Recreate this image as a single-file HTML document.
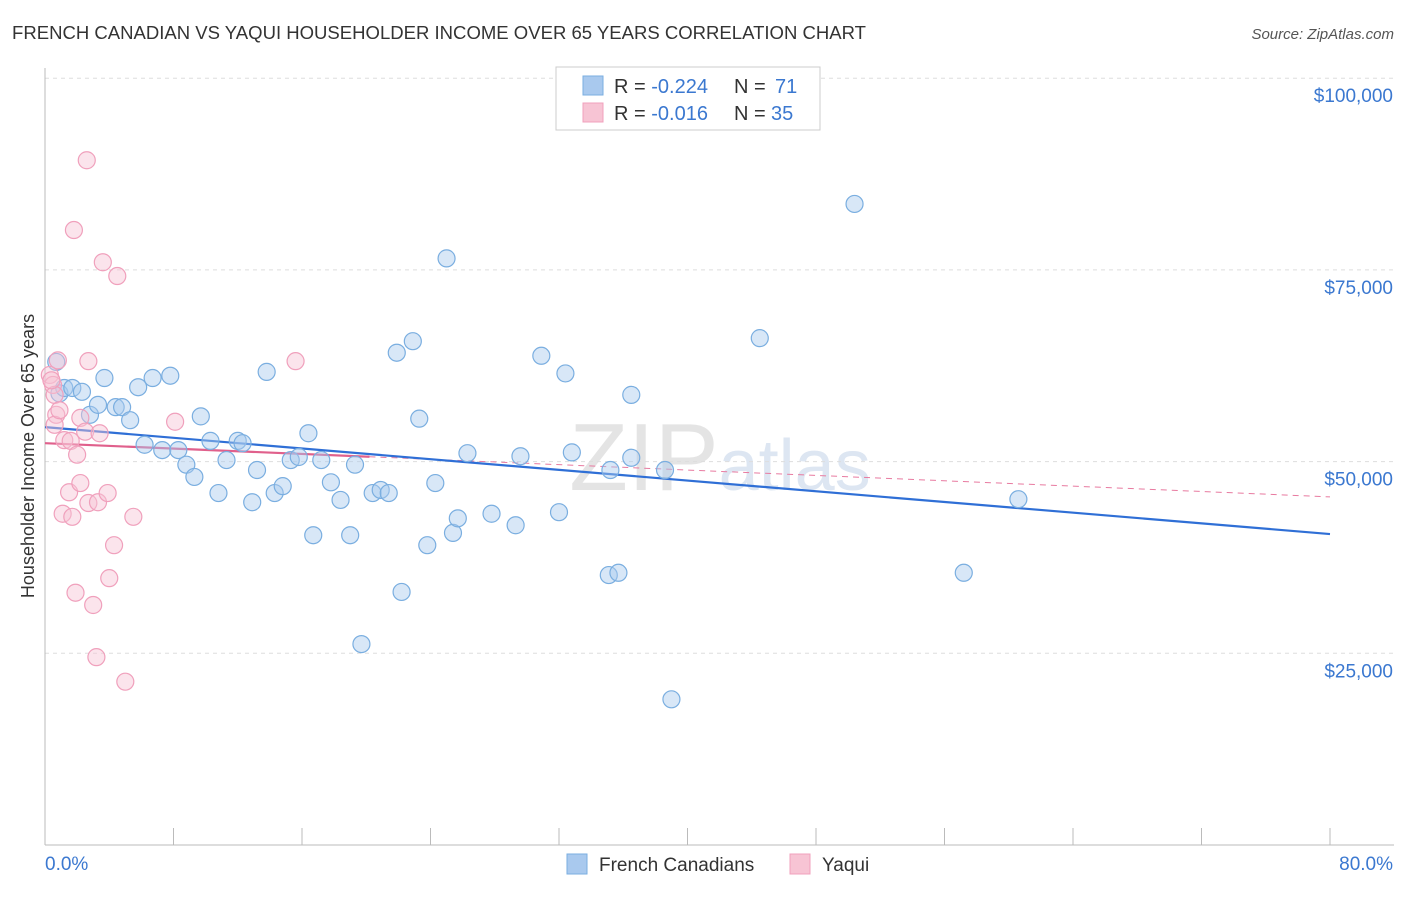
<!DOCTYPE html>
<html><head><meta charset="utf-8"><style>
body{margin:0;background:#fff;font-family:"Liberation Sans",sans-serif;}
svg text{font-family:"Liberation Sans",sans-serif;}
</style></head><body>
<svg id="chart" width="1406" height="892">
<text x="12" y="39" font-size="18" fill="#333" textLength="854" lengthAdjust="spacingAndGlyphs">FRENCH CANADIAN VS YAQUI HOUSEHOLDER INCOME OVER 65 YEARS CORRELATION CHART</text>
<text x="1394" y="39" font-size="15" fill="#555" font-style="italic" text-anchor="end">Source: ZipAtlas.com</text>
<text x="720" y="490" font-size="96" fill="#e4e4e4" text-anchor="middle" font-family="Liberation Serif">ZIP<tspan fill="#dde6f2" font-family="Liberation Sans" font-size="72">atlas</tspan></text>
<g id="grid"></g><g id="axes"></g><g id="trends"></g><g id="points"></g>
<text transform="translate(34,456) rotate(-90)" font-size="18" fill="#333" text-anchor="middle">Householder Income Over 65 years</text>
<g>
<rect x="556" y="67" width="264" height="63" fill="#fff" stroke="#ccc"/>
<rect x="583" y="76" width="20" height="19" fill="#a9c9ee" stroke="#7aaee0"/>
<text x="614" y="93" font-size="20" fill="#333">R = <tspan fill="#3b78d0">-0.224</tspan></text>
<text x="734" y="93" font-size="20" fill="#333">N = </text>
<text x="775" y="93" font-size="20" fill="#3b78d0">71</text>
<rect x="583" y="103" width="20" height="19" fill="#f7c4d4" stroke="#f0a0bc"/>
<text x="614" y="120" font-size="20" fill="#333">R = <tspan fill="#3b78d0">-0.016</tspan></text>
<text x="734" y="120" font-size="20" fill="#333">N = </text>
<text x="771" y="120" font-size="20" fill="#3b78d0">35</text>
</g>
<g>
<rect x="567" y="854" width="20" height="20" fill="#a9c9ee" stroke="#7aaee0"/>
<text x="599" y="871" font-size="19" fill="#333">French Canadians</text>
<rect x="790" y="854" width="20" height="20" fill="#f7c4d4" stroke="#f0a0bc"/>
<text x="822" y="871" font-size="19" fill="#333">Yaqui</text>
</g>
</svg>
<script>
const blueX=[0.7,0.9,1.2,1.7,2.3,3.7,2.8,3.3,4.4,4.8,5.3,5.8,6.7,7.8,6.2,7.3,8.3,8.8,9.3,9.7,10.3,10.8,11.3,12.0,12.3,12.9,13.2,13.8,14.3,14.8,15.3,15.8,16.4,16.7,17.2,17.8,18.4,19.0,19.3,20.4,20.9,21.4,21.9,22.2,22.9,23.3,23.8,24.3,25.0,25.4,25.7,26.3,27.8,29.3,29.6,30.9,32.0,32.4,32.8,35.1,35.2,35.7,36.5,36.5,38.6,39.0,44.5,50.4,57.2,60.6,19.7];
const blueY=[63000,58900,59600,59600,59100,60900,56100,57400,57100,57100,55400,59700,60900,61200,52200,51500,51500,49600,48000,55900,52700,45900,50200,52700,52400,44700,48900,61700,45900,46800,50200,50600,53700,40400,50200,47300,45000,40400,49600,45900,46300,45900,64200,33000,65700,55600,39100,47200,76500,40700,42600,51100,43200,41700,50700,63800,43400,61500,51200,35200,48900,35500,58700,50500,48900,19000,66100,83600,35500,45100,26200];
const pinkX=[2.6,1.8,3.6,4.5,0.3,0.5,0.6,0.7,0.6,2.7,15.6,1.2,1.6,2.0,2.2,2.5,3.4,8.1,1.5,2.2,1.1,1.7,2.7,3.3,3.9,5.5,4.3,4.0,1.9,3.0,3.2,5.0,0.8,0.4,0.9];
const pinkY=[89300,80200,76000,74200,61300,60000,58700,56100,54800,63100,63100,52800,52700,50900,55700,53900,53700,55200,46000,47200,43200,42800,44600,44700,45900,42800,39100,34800,32900,31300,24500,21300,63200,60600,56700];
const yTicks=[25000,50000,75000,100000];
const yTickLabels=["$25,000","$50,000","$75,000","$100,000"];
const blueTrend=[54500,40550];
const pinkTrend=[52400,45400];
const pinkSolidEnd=20.2;

const NS="http://www.w3.org/2000/svg";
const X0=45,X1=1330,Y0=845,YPER=766.8/100000;
const sx=v=>X0+(v/80)*(X1-X0);
const sy=v=>Y0-v*YPER;
function mk(tag,attrs,parent){const e=document.createElementNS(NS,tag);for(const k in attrs)e.setAttribute(k,attrs[k]);parent.appendChild(e);return e;}
const grid=document.getElementById('grid'),axes=document.getElementById('axes'),tr=document.getElementById('trends'),pts=document.getElementById('points');
yTicks.forEach((t,i)=>{
 const l=mk('line',{x1:X0,x2:1394,y1:sy(t),y2:sy(t),stroke:'#ddd','stroke-dasharray':'4,4'},grid);
 
 
 const tx=mk('text',{x:1393,y:sy(t)+24,'font-size':19,fill:'#3b78d0','text-anchor':'end'},grid);
 tx.textContent=yTickLabels[i];
 
 
});
const ax=mk('line',{x1:X0,x2:X0,y1:68,y2:Y0,stroke:'#bbb'},axes);


const bx=mk('line',{x1:X0,x2:1394,y1:Y0,y2:Y0,stroke:'#bbb'},axes);


for(let i=0;i<=10;i++){const t=mk('line',{x1:sx(i*8),x2:sx(i*8),y1:828,y2:Y0,stroke:'#bbb'},axes);
 
 }
[["0.0%",45,'start'],["80.0%",1393,'end']].forEach(a=>{const t=mk('text',{x:a[1],y:870,'font-size':19,fill:'#3b78d0','text-anchor':a[2]},axes);t.textContent=a[0];
 
 });
function dot(x,y,fill,stroke,name){const c=mk('circle',{cx:sx(x),cy:sy(y),r:8.5,fill:fill,'fill-opacity':0.45,stroke:stroke,'stroke-width':1.2},pts);
 
 }
blueX.forEach((x,i)=>dot(x,blueY[i],'#a9c9ee','#7aaee0','french-canadian-point'));
pinkX.forEach((x,i)=>dot(x,pinkY[i],'#f7c4d4','#f0a0bc','yaqui-point'));
const pAt=x=>pinkTrend[0]+(pinkTrend[1]-pinkTrend[0])*x/80;
const pd=mk('line',{x1:sx(pinkSolidEnd),y1:sy(pAt(pinkSolidEnd)),x2:sx(80),y2:sy(pinkTrend[1]),stroke:'#e87aa0','stroke-width':1,'stroke-dasharray':'6,5'},tr);


const bl=mk('line',{x1:sx(0),y1:sy(blueTrend[0]),x2:sx(80),y2:sy(blueTrend[1]),stroke:'#2f6fd6','stroke-width':2.2},tr);


const ps=mk('line',{x1:sx(0),y1:sy(pinkTrend[0]),x2:sx(pinkSolidEnd),y2:sy(pAt(pinkSolidEnd)),stroke:'#e0608c','stroke-width':2.2},tr);


</script>
</body></html>
